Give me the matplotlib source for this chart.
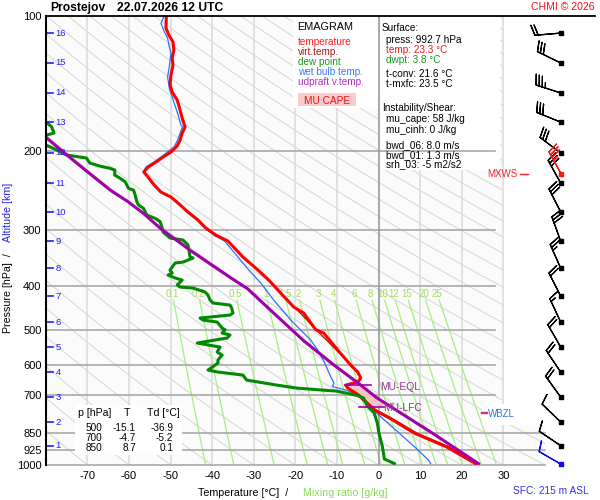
import numpy as np
import matplotlib
matplotlib.use('Agg')
import matplotlib.pyplot as plt
from matplotlib.patches import Rectangle
from matplotlib.lines import Line2D
import matplotlib.transforms as mtransforms
from matplotlib.ticker import NullLocator

plt.rcParams['font.family'] = ['Liberation Sans', 'DejaVu Sans']
plt.rcParams['axes.unicode_minus'] = False

# ------------------------------------------------------------------ data
station = "Prostejov"
run_label = "22.07.2026 12 UTC"

temp_p = [100, 106.5, 110.4, 114.4, 119.2, 124.2, 128.8, 135.5, 142.6, 147.9,
          154.0, 162.2, 169.0, 176.9, 182.4, 189.1, 195.0, 201.1, 206.4, 211.7,
          217.2, 222.9, 228.6, 238.2, 246.9, 253.3, 261.2, 273.5, 285.0, 297.0,
          307.8, 317.4, 344.4, 368.1, 387.6, 414.4, 445.0, 458.9, 500, 508.5,
          554.9, 599.2, 621.0, 640.5, 653.8, 663.9, 674.2, 700, 716.6, 754.4,
          786.0, 850, 912.0, 992.7]
temp_t = [-51.0, -51.1, -50.4, -49.4, -49.2, -49.6, -49.4, -49.9, -50.1, -49.6,
          -48.4, -47.7, -47.2, -46.5, -47.2, -47.7, -48.4, -49.9, -51.8, -53.5,
          -55.4, -56.4, -55.4, -53.9, -52.3, -49.9, -48.2, -45.8, -43.4, -41.5,
          -39.1, -36.2, -32.6, -29.0, -26.4, -23.5, -20.4, -18.0, -15.1, -13.2,
          -9.8, -6.7, -5.0, -4.3, -5.0, -7.9, -7.4, -4.7, -3.6, -1.0,
          2.6, 8.7, 16.4, 23.3]

tv_p = [400, 500, 600, 640.5, 653.8, 663.9, 674.2, 700, 716.6, 754.4, 786, 850, 912, 992.7]
tv_t = [-25.0, -15.0, -6.5, -4.1, -4.8, -7.7, -7.2, -4.5, -3.3, -0.6, 3.1, 9.3, 17.1, 24.1]

dew_p = [168.0, 172.1, 176.6, 182.4, 184.3, 188.0, 194.1, 198.1, 204.2, 207.4, 212.8, 216.1,
         218.6, 220.5, 226.3, 230.1, 234.2, 242.3, 244.4, 250.7, 259.4, 263.8,
         268.4, 277.7, 282.5, 287.4, 294.9, 303.0, 312.5, 315.7, 323.9, 344.4,
         346.2, 353.4, 355.2, 368.1, 373.8, 377.7, 383.5, 387.6, 397.6, 401.7,
         403.8, 412.1, 418.5, 429.4, 436.0, 440.6, 447.4, 458.9, 463.7, 470.9,
         475.7, 480.6, 495.6, 500, 508.5, 513.7, 521.7, 535.2, 546.3, 560.5,
         569.2, 584.0, 593.1, 614.8, 621.0, 630.7, 647.1, 663.9, 674.2, 681.2,
         684.7, 700, 709.3, 740.0, 764.0, 807.0, 850, 908.0, 970.0, 992.7]
dew_t = [-84.0, -80.0, -78.6, -78.0, -79.7, -81.5, -79.9, -77.8, -75.0, -70.2, -69.4, -67.0,
         -64.6, -63.4, -63.4, -62.1, -60.9, -60.1, -58.9, -58.5, -58.1, -57.7,
         -56.5, -55.7, -53.7, -52.5, -52.1, -51.8, -50.1, -47.0, -45.8, -45.3,
         -44.6, -47.0, -48.9, -50.1, -49.6, -50.6, -48.9, -47.2, -48.4, -47.7,
         -44.6, -41.7, -41.0, -40.5, -39.8, -35.7, -35.3, -35.0, -35.7, -42.9,
         -42.2, -38.8, -37.6, -36.9, -37.6, -35.7, -36.4, -43.6, -38.1, -38.8,
         -37.6, -38.6, -38.6, -41.0, -38.6, -32.6, -31.7, -24.5, -19.7, -13.5,
         -10.1, -5.2, -3.6, -2.7, -1.1, -0.3, 0.1, 0.9, 1.4, 3.8]

wb_p = [100, 104.0, 108.5, 112.3, 117.2, 121.2, 129.9, 136.7, 145.0, 156.7,
        164.9, 175.1, 176.6, 189.1, 195.7, 200.0, 206.4, 211.7, 217.2, 222.9,
        228.6, 238.2, 246.9, 253.3, 261.2, 273.5, 285.0, 297.0, 307.8, 317.4,
        344.4, 368.1, 393.6, 429.4, 475.7, 527.2, 555.0, 589.0, 636.0, 657.0,
        669.0, 681.0, 695.0, 724.2, 754.0, 800.0, 850.0, 912.0, 975.0, 992.7]
wb_t = [-51.5, -52.3, -51.5, -50.7, -50.3, -49.9, -50.3, -50.7, -50.3, -49.1,
        -48.3, -47.5, -47.1, -48.3, -49.1, -50.4, -52.3, -54.0, -55.9, -56.6,
        -55.6, -54.2, -52.5, -50.1, -48.4, -46.0, -43.6, -41.7, -39.6, -37.0,
        -33.8, -31.2, -28.3, -25.2, -21.1, -16.3, -14.6, -13.1, -11.5, -10.7,
        -11.1, -7.9, -5.5, -3.0, -1.3, 1.8, 5.0, 8.7, 12.0, 12.5]

parcel_p = [180.0, 186.7, 204.6, 220.9, 244.8, 259.1, 275.5, 297.6, 333.2, 382.8,
            405.1, 445.7, 528.9, 595.3, 665.0, 708.9, 850.0, 992.7]
parcel_t = [-82.0, -79.9, -74.8, -70.4, -64.4, -60.3, -56.5, -52.4, -45.2, -35.6,
            -31.5, -26.7, -18.0, -11.1, -4.2, -0.4, 13.0, 24.0]

mu_eql_p, mu_lfc_p = 665.0, 742.0
wbzl_p = 769.0

isobars = [200, 300, 400, 500, 600, 700, 850, 925, 1000]
p_ticks = [100, 200, 300, 400, 500, 600, 700, 850, 925, 1000]
t_ticks = [-70, -60, -50, -40, -30, -20, -10, 0, 10, 20, 30]
mix_ratios = [0.1, 0.2, 0.5, 1, 1.5, 2, 3, 4, 6, 8, 10, 12, 15, 20, 25]
mix_labels = ['0.1', '0.2', '0.5', '1', '1.5', '2', '3', '4', '6', '8', '10', '12', '15', '20', '25']

alt_km = list(range(1, 17))
alt_p = [905.8, 802.4, 705.8, 620.9, 546.3, 480.7, 420.8, 364.6, 317.5, 273.5,
         235.8, 202.1, 172.5, 148.6, 127.4, 109.3]

wind_dir = [304, 314, 324, 326, 330, 335, 333, 336, 340, 333, 331, 307, 292, 288, 296, 265]
wind_spd = [10, 10, 20, 20, 20, 15, 20, 25, 30, 30, 30, 30, 30, 35, 30, 20]
sfc_p, sfc_dir, sfc_spd = 992.7, 300, 10
mxws_p, mxws_dir, mxws_spd = 225.5, 331, 35

table_p = [500, 700, 850]
table_t = [-15.1, -4.7, 8.7]
table_td = [-36.9, -5.2, 0.1]

# ------------------------------------------------------------------ layout
W, H = 600, 500
L, R, TOP, BOT = 45.7, 545.0, 15.7, 465.0
TMIN, TMAX = -80, 40

fig = plt.figure(figsize=(6, 5), dpi=100)
fig.patch.set_facecolor('white')
ax = fig.add_axes([L / W, 1 - BOT / H, (R - L) / W, (BOT - TOP) / H])
ax.set_facecolor('#fbfbfb')
ax.set_yscale('log')
ax.set_xlim(TMIN, TMAX)
ax.set_ylim(1000, 100)


def fx(x):
    return x / W


def fy(y):
    return 1 - y / H


def axrect(x0, y0, x1, y1, z, color='white'):
    ax.add_patch(Rectangle(((x0 - L) / (R - L), (BOT - y1) / (BOT - TOP)),
                           (x1 - x0) / (R - L), (y1 - y0) / (BOT - TOP),
                           transform=ax.transAxes, facecolor=color,
                           edgecolor='none', zorder=z, clip_on=False))


# dry adiabats
pp = np.logspace(2, 3, 120)
for t0 in range(-80, 340, 10):
    th = t0 + 273.15
    ax.plot(th * (pp / 1000.0) ** 0.2857 - 273.15, pp, color='#d9d9d9', lw=0.8, zorder=1)

# isotherms
for t in range(-70, 40, 10):
    if t == 0:
        continue
    ax.axvline(t, color='#dcdcdc', lw=1.2, zorder=1.2 if t != 30 else 3)

# mixing-ratio lines
pm = np.linspace(1000, 430, 60)
for w, lab in zip(mix_ratios, mix_labels):
    e = w * pm / (622.0 + w)
    lg = np.log(e / 6.112)
    ax.plot(243.5 * lg / (17.67 - lg), pm, color='#a6ef80', lw=0.9, zorder=1.5)
    e2 = w * 417.0 / (622.0 + w)
    l2 = np.log(e2 / 6.112)
    ax.text(243.5 * l2 / (17.67 - l2), 417, lab, color='#a2dc62', fontsize=7,
            ha='center', va='center', zorder=1.6)

# white boxes
axrect(293, 16, 378, 108, 2)          # legend
axrect(378, 16, 500, 170, 2)          # info
axrect(503.5, 15.7, 545, 425, 2)      # barb column

# isobars and 0 degC line
for p in isobars:
    xm = 1.0 if p >= 850 else (495 - L) / (R - L)
    ax.axhline(p, xmin=0, xmax=xm, color='#a9a9a9', lw=1.2, zorder=3, clip_on=False)
ax.axvline(0, color='#9a9a9a', lw=1.2, zorder=3)

# table box and WBZL box above isobars
axrect(75, 405, 182, 455, 4.5)
axrect(482, 404, 520, 425, 4.5)

# CAPE shading
pg = np.linspace(mu_eql_p, mu_lfc_p, 80)
tpar = np.interp(pg, parcel_p, parcel_t)
tenv = np.interp(pg, temp_p, temp_t)
ax.fill_betweenx(pg, tenv, tpar, where=tpar > tenv, color='#f9c6c6', lw=0, zorder=4.6)

# profiles
ax.plot(tv_t, tv_p, color='#a01818', lw=0.9, zorder=5)
ax.plot(wb_t, wb_p, color='#2f6fff', lw=0.9, zorder=5.5)
ax.plot(temp_t, temp_p, color='#ff0000', lw=2.2, zorder=6)
ax.plot(dew_t, dew_p, color='#008a00', lw=2.2, zorder=6)
ax.plot(parcel_t, parcel_p, color='#a000a8', lw=2.2, zorder=7)

# MU levels
ax.plot([-8.0, -1.7], [mu_eql_p, mu_eql_p], color='#a000a8', lw=1.2, zorder=8)
ax.plot([-4.8, 1.2], [mu_lfc_p, mu_lfc_p], color='#a000a8', lw=1.2, zorder=8)
ax.text(0.3, mu_eql_p + 4, 'MU-EQL', color='#993399', fontsize=7.4, va='center', ha='left', zorder=8)
ax.text(1.0, mu_lfc_p + 5, 'MU-LFC', color='#993399', fontsize=7.4, va='center', ha='left', zorder=8)

# WBZL marker
ax.plot([24.5, 26.1], [wbzl_p - 7, wbzl_p - 7], color='#ff2020', lw=1.0, zorder=8)
ax.plot([24.5, 26.1], [wbzl_p - 3, wbzl_p - 3], color='#2f6fff', lw=1.0, zorder=8)
ax.text(26.2, wbzl_p, 'WBZL', color='#3a6ee8', fontsize=7, va='center', ha='left', zorder=8)

# axes styling
for s in ['top', 'right', 'bottom']:
    ax.spines[s].set_visible(False)
ax.spines['left'].set_linewidth(1.5)
ax.spines['left'].set_color('black')
ax.spines['left'].set_zorder(9)
ax.set_xticks(t_ticks)
ax.set_xticklabels([str(t) for t in t_ticks])
ax.set_yticks(p_ticks)
ax.set_yticklabels([str(p) for p in p_ticks])
ax.yaxis.set_minor_locator(NullLocator())
ax.tick_params(axis='x', length=0, pad=4.5, labelsize=8)
ax.tick_params(axis='y', length=0, pad=3, labelsize=8)

fig.add_artist(Line2D([fx(L), fx(595)], [fy(TOP), fy(TOP)], color='black', lw=1.3))

# altitude labels
btr = mtransforms.blended_transform_factory(ax.transAxes, ax.transData)
for km, p in zip(alt_km, alt_p):
    ax.plot([0.002, 0.014], [p, p], transform=btr, color='#1f1fff', lw=1.2,
            clip_on=False, zorder=8)
    ax.text(0.0195, p, str(km), transform=btr, color='#1f1fff', fontsize=6.8,
            va='center', ha='left', zorder=8)

# wind barbs
bax = fig.add_axes([500 / W, 1 - BOT / H, 100 / W, (BOT - TOP) / H])
bax.set_yscale('log')
bax.set_ylim(1000, 100)
bax.set_xlim(500, 600)
bax.axis('off')
bx = 560.7


def uv(d, s):
    r = np.deg2rad(np.asarray(d, float))
    s = np.asarray(s, float)
    return -s * np.sin(r), -s * np.cos(r)


u, v = uv(wind_dir, wind_spd)
bkw = dict(length=6.1, linewidth=0.9, sizes=dict(emptybarb=0.0), clip_on=False)
bax.barbs(np.full(len(alt_p), bx), alt_p, u, v, color='black', zorder=4, **bkw)
bax.scatter(np.full(len(alt_p), bx), alt_p, marker='s', s=5, color='black', zorder=5, clip_on=False)
us, vs = uv([sfc_dir], [sfc_spd])
bax.barbs([bx], [sfc_p], us, vs, color='#1010ee', zorder=4, **bkw)
bax.scatter([bx], [sfc_p], marker='s', s=5, color='#1010ee', zorder=5, clip_on=False)
um, vm = uv([mxws_dir], [mxws_spd])
bax.barbs([bx], [mxws_p], um, vm, color='#ff1a1a', zorder=6, **bkw)
bax.scatter([bx], [mxws_p], marker='s', s=5, color='#ff1a1a', zorder=7, clip_on=False)

fig.text(fx(517), fy(174.3), 'MXWS', color='#ff2020', fontsize=7, ha='right', va='center')
fig.add_artist(Line2D([fx(520), fx(528)], [fy(173.5), fy(173.5)], color='#ff2020', lw=1.0))

# title
fig.text(fx(50), fy(8), station, fontweight='bold', fontsize=8.7, ha='left', va='center')
fig.text(fx(117), fy(8), run_label, fontweight='bold', fontsize=8.7, ha='left', va='center')
fig.text(fx(595), fy(7), 'CHMI \u00a9 2026', color='#ee1111', fontsize=7.6, ha='right', va='center')

# axis labels
fig.text(fx(198), fy(493), 'Temperature [\u00b0C]  /', fontsize=7.7, ha='left', va='center')
fig.text(fx(302.7), fy(493), 'Mixing ratio [g/kg]', fontsize=7.7, color='#88dd55', ha='left', va='center')
fig.text(fx(8), fy(333), 'Pressure [hPa]  /', rotation=90, fontsize=7.7, ha='center', va='bottom')
fig.text(fx(8), fy(242), 'Altitude [km]', rotation=90, fontsize=7.7, color='#2222ee', ha='center', va='bottom')
fig.text(fx(589), fy(491.5), 'SFC: 215 m ASL', color='#3333dd', fontsize=7.3, ha='right', va='center')

# legend
fig.text(fx(297.5), fy(26.5), 'EMAGRAM', fontsize=7.8, ha='left', va='center')
leg = [('temperature', '#ff1a1a'), ('virt.temp.', '#a01818'), ('dew point', '#1a9a1a'),
       ('wet bulb temp.', '#3a78ee'), ('udpraft v.temp.', '#b030c0')]
for i, (txt, c) in enumerate(leg):
    fig.text(fx(298), fy(41.7 + 10 * i), txt, color=c, fontsize=7.2, ha='left', va='center')
fig.add_artist(Rectangle((fx(298), fy(106)), 58 / W, 13 / H, transform=fig.transFigure,
                         facecolor='#f9cccc', edgecolor='none', zorder=2))
fig.text(fx(327), fy(100.5), 'MU CAPE', color='#ee1111', fontsize=7.3, ha='center', va='center', zorder=3)

# info block
info = [(382, 27.7, 'Surface:', 'black'),
        (386, 40, 'press: 992.7 hPa', 'black'),
        (386, 50, 'temp: 23.3 \u00b0C', '#ee1c1c'),
        (386, 60, 'dwpt: 3.8 \u00b0C', '#1a9a1a'),
        (386, 74, 't-conv: 21.6 \u00b0C', 'black'),
        (386, 84.3, 't-mxfc: 23.5 \u00b0C', 'black'),
        (382, 108.3, 'Instability/Shear:', 'black'),
        (386, 119.3, 'mu_cape: 58 J/kg', 'black'),
        (386, 130, 'mu_cinh: 0 J/kg', 'black'),
        (386, 145, 'bwd_06: 8.0 m/s', 'black'),
        (386, 155, 'bwd_01: 1.3 m/s', 'black'),
        (386, 164.3, 'srh_03: -5 m2/s2', 'black')]
for x, y, txt, c in info:
    fig.text(fx(x), fy(y), txt, color=c, fontsize=7.2, ha='left', va='center')

# table
fig.text(fx(77.7), fy(413.3), 'p [hPa]', fontsize=7.6, ha='left', va='center')
fig.text(fx(127), fy(413.3), 'T', fontsize=7.6, ha='center', va='center')
fig.text(fx(146.7), fy(413.3), 'Td [\u00b0C]', fontsize=7.6, ha='left', va='center')
for i, (p, t, td) in enumerate(zip(table_p, table_t, table_td)):
    y = 428.3 + 10 * i
    fig.text(fx(102.7), fy(y), str(p), fontsize=7.2, ha='right', va='center')
    fig.text(fx(136), fy(y), f'{t:.1f}', fontsize=7.2, ha='right', va='center')
    fig.text(fx(173.3), fy(y), f'{td:.1f}', fontsize=7.2, ha='right', va='center')

fig.savefig('out.png', dpi=100)
